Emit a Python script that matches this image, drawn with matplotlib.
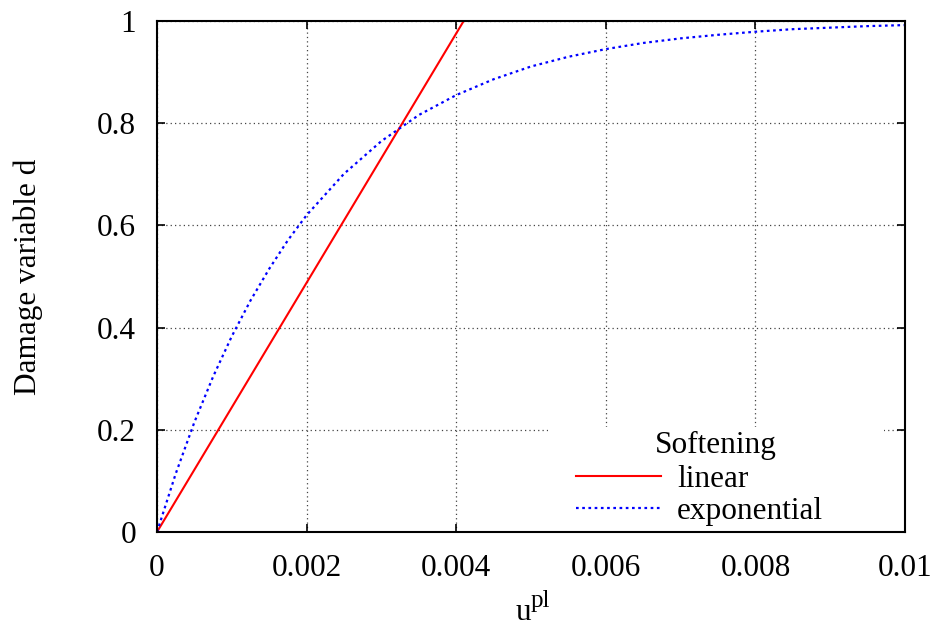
import matplotlib
matplotlib.use('Agg')
import matplotlib.pyplot as plt
from matplotlib.patches import Rectangle

# values
u_linear = [0.0, 0.0041]
d_linear = [0.0, 1.0]

u_exp = [0.0, 0.00025, 0.0005, 0.00075, 0.001, 0.00125, 0.0015, 0.00175, 0.002,
         0.0025, 0.003, 0.0035, 0.004, 0.0045, 0.005, 0.0055, 0.006, 0.0065,
         0.007, 0.0075, 0.008, 0.0085, 0.009, 0.0095, 0.01]
d_exp = [0.0, 0.114, 0.215, 0.304, 0.383, 0.453, 0.515, 0.571, 0.620,
         0.701, 0.765, 0.816, 0.855, 0.886, 0.911, 0.930, 0.945, 0.957,
         0.966, 0.973, 0.979, 0.984, 0.987, 0.990, 0.992]

x_ticks = [0, 0.002, 0.004, 0.006, 0.008, 0.01]
x_labels = ['0', '0.002', '0.004', '0.006', '0.008', '0.01']
y_ticks = [0, 0.2, 0.4, 0.6, 0.8, 1]
y_labels = ['0', '0.2', '0.4', '0.6', '0.8', '1']

plt.rcParams['font.family'] = ['Liberation Serif', 'DejaVu Serif']
plt.rcParams['font.size'] = 22.5

fig = plt.figure(figsize=(9.36, 6.27), dpi=100)
ax = fig.add_axes([157/936, 1-532/627, (905-157)/936, (532-21)/627])

ax.plot(u_linear, d_linear, color='#ff0000', lw=1.5, label='linear', zorder=3)
ax.plot(u_exp, d_exp, color='#0000ff', lw=1.6, ls=(0, (1.2, 1.6)), label='exponential', zorder=3)

ax.set_xlim(0, 0.01)
ax.set_ylim(0, 1)
ax.set_xticks(x_ticks)
ax.set_xticklabels(x_labels)
ax.set_yticks(y_ticks)
ax.set_yticklabels(y_labels)
ax.tick_params(direction='in', length=6, width=1.2, top=True, right=True)
ax.tick_params(axis='x', pad=16)
ax.tick_params(axis='y', pad=15)
ax.grid(True, color='#444444', ls=(0, (1, 2.5)), lw=0.9)
for s in ax.spines.values():
    s.set_linewidth(1.5)
    s.set_zorder(4)

# x label: "u" with a large superscript "pl", as gnuplot draws it
ax.text(0.5, -0.172, 'u', transform=ax.transAxes, ha='right', va='baseline')
ax.text(0.5, -0.147, 'pl', transform=ax.transAxes, ha='left', va='baseline', fontsize=18)
ax.set_ylabel('Damage variable d')
ax.yaxis.set_label_coords(-0.152, 0.5)

# white key area (gnuplot style key box without border)
ax.add_patch(Rectangle(((548-157)/748, 0), (884-548)/748, (532-427)/511,
                       transform=ax.transAxes, facecolor='white', edgecolor='none', zorder=2))

ax.legend(loc='lower right', bbox_to_anchor=((823-157)/748, 0.012), frameon=False,
          borderpad=0, borderaxespad=0, handlelength=2.72, handletextpad=0.5,
          labelspacing=0.1)
ax.text(0.747, 0.1546, 'Softening', transform=ax.transAxes, ha='center', va='baseline', zorder=5)

fig.savefig('out.png', dpi=100)
